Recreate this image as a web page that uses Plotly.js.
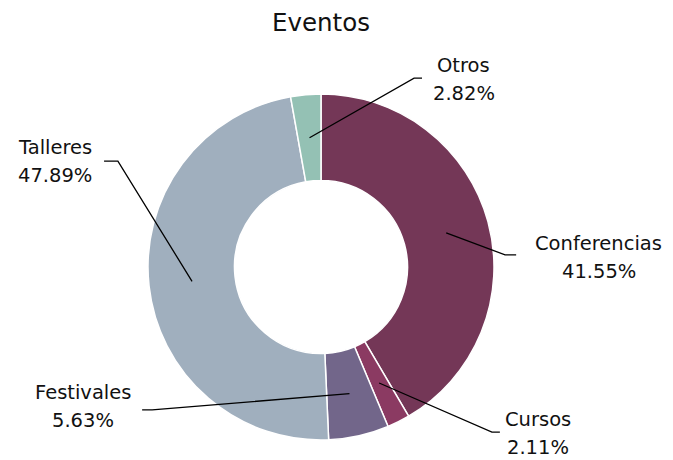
<!DOCTYPE html>
<html><head><meta charset="utf-8">
<script src="https://cdn.plot.ly/plotly-3.0.1.min.js"></script>
<style>body{margin:0;background:#fff}</style>
</head><body>
<div id="chart" style="width:673px;height:460px"></div>
<script>
const categories = ["Conferencias", "Cursos", "Festivales", "Talleres", "Otros"];
const counts = [59, 3, 8, 68, 4];
const percentLabels = ["41.55%", "2.11%", "5.63%", "47.89%", "2.82%"];
const colors = ["#743757", "#8b3a62", "#72668a", "#a0afbe", "#94c1b4"];

// label placement (paper coords): elbow point, end of horizontal tick, text centre of first line
const labelPos = [
  {ex: 1.032, ey: 0.535, tx: 1.064, lx: 1.303, ly: 0.569},
  {ex: 0.994, ey: 0.023, tx: 1.017, lx: 1.127, ly: 0.058},
  {ex: 0.012, ey: 0.087, tx: -0.017, lx: -0.188, ly: 0.136},
  {ex: -0.087, ey: 0.806, tx: -0.127, lx: -0.269, ly: 0.844},
  {ex: 0.769, ey: 1.046, tx: 0.792, lx: 0.913, ly: 1.081}
];

const hole = 0.5;
const labelFont = {family: "DejaVu Sans, sans-serif", size: 19.5, color: "#111"};
const total = counts.reduce((a, b) => a + b, 0);
const shapes = [], annotations = [];
let cum = 0;
counts.forEach((v, i) => {
  const mid = (cum + v / 2) / total * 2 * Math.PI;
  cum += v;
  const rr = 0.5 * (1 + hole) / 2;
  const ax = 0.5 + rr * Math.sin(mid);
  const ay = 0.5 + rr * Math.cos(mid);
  const p = labelPos[i];
  shapes.push({type: "path", xref: "paper", yref: "paper",
    path: `M ${ax} ${ay} L ${p.ex} ${p.ey} L ${p.tx} ${p.ey}`,
    line: {color: "#000", width: 1.3}});
  annotations.push({xref: "paper", yref: "paper", x: p.lx, y: p.ly,
    xanchor: "center", yanchor: "middle", showarrow: false,
    text: categories[i], font: labelFont});
  annotations.push({xref: "paper", yref: "paper", x: p.lx, y: p.ly, yshift: -28,
    xanchor: "center", yanchor: "middle", showarrow: false,
    text: percentLabels[i], font: labelFont});
});

Plotly.newPlot("chart", [{
  type: "pie", labels: categories, values: counts, hole: hole,
  sort: false, direction: "clockwise", rotation: 0,
  marker: {colors: colors, line: {color: "#fff", width: 1.5}},
  textinfo: "none", hoverinfo: "label+percent", showlegend: false
}], {
  width: 673, height: 460,
  margin: {l: 148, r: 179, t: 94, b: 20},
  paper_bgcolor: "#fff",
  title: {text: "Eventos", xref: "paper", x: 0.5, xanchor: "center",
    yref: "container", y: 0.952, yanchor: "middle",
    font: {family: "DejaVu Sans, sans-serif", size: 24.5, color: "#111"}},
  shapes: shapes, annotations: annotations
}, {displayModeBar: false});
</script>
</body></html>
